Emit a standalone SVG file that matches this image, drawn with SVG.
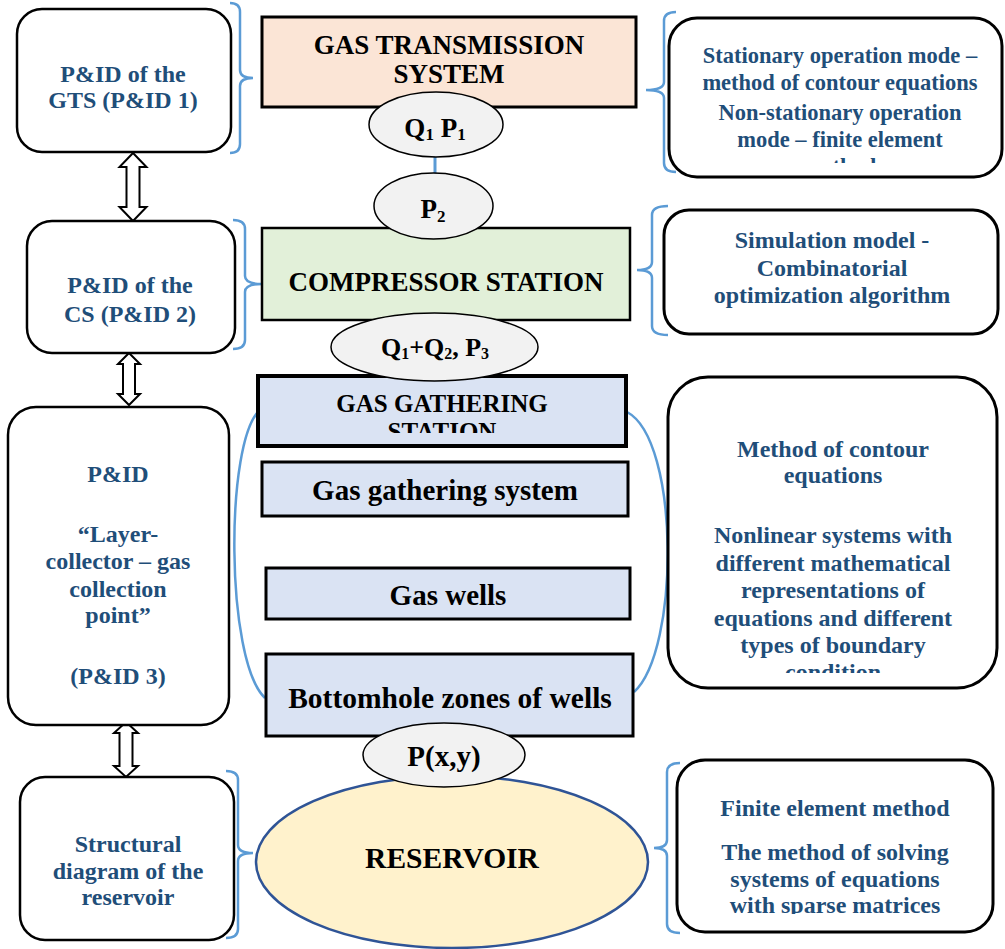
<svg xmlns="http://www.w3.org/2000/svg" width="1005" height="949" viewBox="0 0 1005 949">
<style>
.lbox{fill:#fff;stroke:#000;stroke-width:2.5}
.rbox{fill:#fff;stroke:#000;stroke-width:3}
.blk{font-family:"Liberation Serif","Times New Roman",serif;font-weight:bold;fill:#000;text-anchor:middle}
.blu{font-family:"Liberation Serif","Times New Roman",serif;font-weight:bold;fill:#1F4E79;text-anchor:middle;font-size:24px}
.blu.sm{font-size:22.5px}
.ell{fill:#F2F2F2;stroke:#000;stroke-width:1.5}
.brace{fill:none;stroke:#5B9BD5;stroke-width:2.5}
.dbl{fill:#fff;stroke:#000;stroke-width:2}
.bluebox{fill:#DAE3F3;stroke:#000;stroke-width:3}
</style>
<defs>
<clipPath id="cR1"><rect x="669" y="18" width="333" height="145"/></clipPath>
<clipPath id="cGS"><rect x="258" y="376" width="368" height="57"/></clipPath>
<clipPath id="cR3"><rect x="668" y="377" width="329" height="296"/></clipPath>
<clipPath id="cR4"><rect x="677" y="760" width="316" height="154"/></clipPath>
</defs>

<g id="connectors">
<line x1="435" y1="155" x2="435" y2="175" stroke="#5B9BD5" stroke-width="3"/>
<path class="brace" d="M230 3 Q240 3 240 12 L240 70 Q240 78 253 78 Q240 78 240 86 L240 144 Q240 153 230 153"/>
<path class="brace" d="M233 220 Q245 220 245 229 L245 276 Q245 284 262 284 Q245 284 245 292 L245 340 Q245 349 233 349"/>
<path class="brace" d="M226 771 Q238 771 238 780 L238 845 Q238 853 253 853 Q238 853 238 861 L238 929 Q238 938 226 938"/>
<path class="brace" d="M676 12 Q664 12 664 21 L664 82 Q664 90 646 90 Q664 90 664 98 L664 163 Q664 172 676 172"/>
<path class="brace" d="M668 206 Q652 206 652 215 L652 262 Q652 270 637 270 Q652 270 652 278 L652 326 Q652 335 668 335"/>
<path class="brace" d="M680 763 Q667 763 667 772 L667 840 Q667 848 654 848 Q667 848 667 856 L667 924 Q667 933 680 933"/>
<path class="brace" d="M260 410 C225 440 225 660 265 698"/>
<path class="brace" d="M627 412 C680 440 680 650 634 692"/>
<polygon class="dbl" points="133,153 146.5,167 139.5,167 139.5,207 146.5,207 133,221 119.5,207 126.5,207 126.5,167 119.5,167"/>
<polygon class="dbl" points="129,353 140,364 135,364 135,394 140,394 129,405 118,394 123,394 123,364 118,364"/>
<polygon class="dbl" points="126,722 138,733 132.5,733 132.5,766 138,766 126,777 114,766 119.5,766 119.5,733 114,733"/>
</g>

<g id="gts">
<rect x="262" y="17" width="374" height="90" fill="#FBE5D6" stroke="#000" stroke-width="3"/>
<text class="blk" font-size="27" x="449" y="54">GAS TRANSMISSION</text>
<text class="blk" font-size="27" x="449" y="83">SYSTEM</text>
</g>
<g id="q1p1">
<ellipse class="ell" cx="436" cy="124.5" rx="67" ry="32.5"/>
<text class="blk" font-size="27" x="435" y="137">Q<tspan font-size="17" dy="3">1</tspan><tspan dy="-3"> P</tspan><tspan font-size="17" dy="3">1</tspan></text>
</g>
<g id="cs">
<rect x="262" y="228" width="368" height="92" fill="#E2F0D9" stroke="#000" stroke-width="2.5"/>
<text class="blk" font-size="27" x="446" y="291">COMPRESSOR STATION</text>
</g>
<g id="p2">
<ellipse class="ell" cx="433.5" cy="206" rx="59.5" ry="33"/>
<text class="blk" font-size="27" x="433" y="218">P<tspan font-size="17" dy="4">2</tspan></text>
</g>
<g id="gstation">
<rect x="258" y="376" width="368" height="70" fill="#DAE3F3" stroke="#000" stroke-width="4"/>
<g clip-path="url(#cGS)">
<text class="blk" font-size="25" x="442" y="412">GAS GATHERING</text>
<text class="blk" font-size="25" x="442" y="440">STATION</text>
</g>
</g>
<g id="q1q2p3">
<ellipse class="ell" cx="434.5" cy="347" rx="103.5" ry="34"/>
<text class="blk" font-size="26" x="435" y="356">Q<tspan font-size="16" dy="3">1</tspan><tspan dy="-3">+Q</tspan><tspan font-size="16" dy="3">2</tspan><tspan dy="-3">, P</tspan><tspan font-size="16" dy="3">3</tspan></text>
</g>
<g id="ggs">
<rect class="bluebox" x="262" y="462" width="366" height="54"/>
<text class="blk" font-size="29" x="445" y="500">Gas gathering system</text>
</g>
<g id="wells">
<rect class="bluebox" x="266" y="568" width="364" height="51"/>
<text class="blk" font-size="29" x="448" y="605">Gas wells</text>
</g>
<g id="bottomhole">
<rect class="bluebox" x="266" y="654" width="367" height="82"/>
<text class="blk" font-size="29.5" x="450" y="708">Bottomhole zones of wells</text>
</g>
<g id="reservoir">
<ellipse cx="452" cy="862" rx="196" ry="86" fill="#FFF2CC" stroke="#2F5496" stroke-width="2.5"/>
<text class="blk" font-size="29.5" x="452" y="868">RESERVOIR</text>
</g>
<g id="pxy">
<ellipse class="ell" cx="444" cy="755" rx="81" ry="32"/>
<text class="blk" font-size="29" x="444" y="766">P(x,y)</text>
</g>

<g id="pid1">
<rect class="lbox" x="17" y="9" width="214" height="143" rx="25"/>
<text class="blu" x="123" y="82">P&amp;ID of the</text>
<text class="blu" x="123" y="108">GTS (P&amp;ID 1)</text>
</g>
<g id="pid2">
<rect class="lbox" x="27" y="221" width="208" height="132" rx="25"/>
<text class="blu" x="130" y="293">P&amp;ID of the</text>
<text class="blu" x="130" y="322">CS (P&amp;ID 2)</text>
</g>
<g id="pid3">
<rect class="lbox" x="8" y="407" width="221" height="318" rx="28"/>
<text class="blu" x="118" y="482">P&amp;ID</text>
<text class="blu" x="118" y="542">“Layer-</text>
<text class="blu" x="118" y="569">collector – gas</text>
<text class="blu" x="118" y="597">collection</text>
<text class="blu" x="118" y="623">point”</text>
<text class="blu" x="118" y="684">(P&amp;ID 3)</text>
</g>
<g id="structural">
<rect class="lbox" x="20" y="777" width="214" height="163" rx="25"/>
<text class="blu" x="128" y="852">Structural</text>
<text class="blu" x="128" y="879">diagram of the</text>
<text class="blu" x="128" y="905">reservoir</text>
</g>

<g id="method1">
<rect class="rbox" x="669" y="18" width="333" height="159" rx="28"/>
<g clip-path="url(#cR1)">
<text class="blu sm" x="840" y="63">Stationary operation mode –</text>
<text class="blu sm" x="840" y="90">method of contour equations</text>
<text class="blu sm" x="840" y="120">Non-stationary operation</text>
<text class="blu sm" x="840" y="147">mode – finite element</text>
<text class="blu sm" x="840" y="174">method</text>
</g>
</g>
<g id="method2">
<rect class="rbox" x="664" y="210" width="334" height="124" rx="25"/>
<text class="blu" x="832" y="248">Simulation model -</text>
<text class="blu" x="832" y="276">Combinatorial</text>
<text class="blu" x="832" y="303">optimization algorithm</text>
</g>
<g id="method3">
<rect class="rbox" x="668" y="377" width="329" height="311" rx="40"/>
<g clip-path="url(#cR3)">
<text class="blu" x="833" y="457">Method of contour</text>
<text class="blu" x="833" y="483">equations</text>
<text class="blu" x="833" y="543">Nonlinear systems with</text>
<text class="blu" x="833" y="571">different mathematical</text>
<text class="blu" x="833" y="598">representations of</text>
<text class="blu" x="833" y="626">equations and different</text>
<text class="blu" x="833" y="653">types of boundary</text>
<text class="blu" x="833" y="680">condition</text>
</g>
</g>
<g id="method4">
<rect class="rbox" x="677" y="760" width="316" height="172" rx="28"/>
<g clip-path="url(#cR4)">
<text class="blu" x="835" y="816">Finite element method</text>
<text class="blu" x="835" y="860">The method of solving</text>
<text class="blu" x="835" y="887">systems of equations</text>
<text class="blu" x="835" y="913">with sparse matrices</text>
</g>
</g>
</svg>
